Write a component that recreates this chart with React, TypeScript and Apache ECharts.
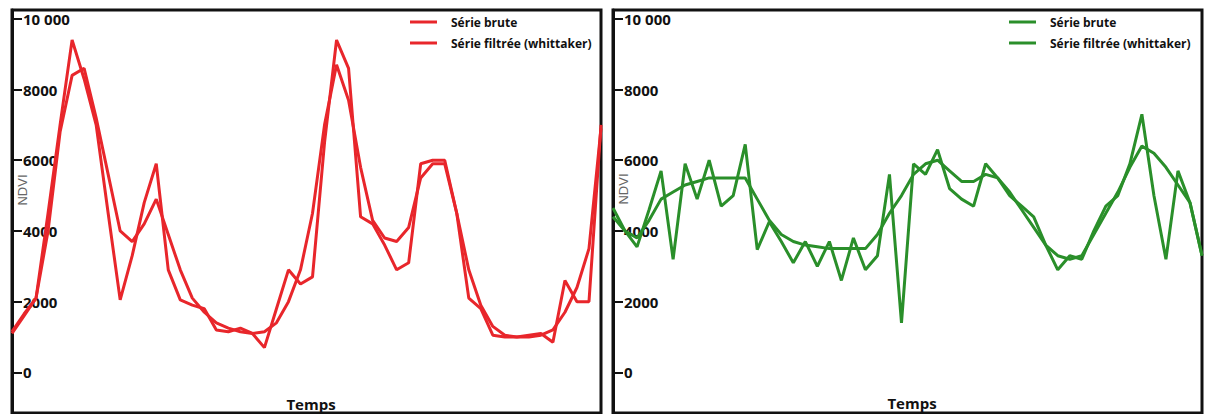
import React, { useEffect, useRef } from "react";
import * as echarts from "echarts";

const timeSteps: string[] = Array.from({ length: 50 }, (_, i) => String(i + 1));

const redRaw = [1150, 1650, 2100, 4500, 7000, 9400, 8300, 7000, 4500, 2050, 3300, 4800, 5900, 2900, 2050, 1900, 1800, 1200, 1150, 1250, 1100, 700, 1800, 2900, 2500, 2700, 6500, 9400, 8600, 4400, 4200, 3600, 2900, 3100, 5900, 6000, 6000, 4500, 2100, 1800, 1050, 1000, 1000, 1050, 1100, 850, 2600, 2000, 2000, 7000];
const redSmooth = [1100, 1600, 2100, 4000, 6800, 8400, 8600, 7200, 5600, 4000, 3700, 4200, 4900, 3900, 2900, 2100, 1700, 1400, 1250, 1150, 1100, 1150, 1400, 2000, 2900, 4500, 7000, 8700, 7700, 5800, 4300, 3800, 3700, 4100, 5500, 5900, 5900, 4500, 2900, 1900, 1300, 1050, 1000, 1000, 1050, 1200, 1700, 2400, 3500, 6900];

const greenRaw = [4650, 4000, 3550, 4600, 5700, 3200, 5900, 4900, 6000, 4700, 5000, 6450, 3470, 4260, 3700, 3100, 3700, 3000, 3700, 2600, 3800, 2900, 3300, 5600, 1400, 5900, 5600, 6300, 5200, 4900, 4700, 5900, 5500, 5000, 4700, 4400, 3600, 2900, 3300, 3200, 4000, 4700, 5000, 5900, 7300, 5000, 3200, 5700, 4800, 3300];
const greenSmooth = [4400, 4000, 3800, 4300, 4900, 5100, 5300, 5400, 5500, 5500, 5500, 5500, 4900, 4300, 3900, 3700, 3600, 3550, 3500, 3500, 3500, 3500, 3900, 4500, 5000, 5600, 5900, 6000, 5700, 5400, 5400, 5600, 5500, 5100, 4600, 4100, 3600, 3300, 3200, 3300, 3900, 4500, 5100, 5800, 6400, 6200, 5800, 5300, 4800, 3300];

const yTicks = [0, 2000, 4000, 6000, 8000, 10000];
const seriesNames = ["Série brute", "Série filtrée (whittaker)"];
const yName = "NDVI";
const xName = "Temps";

const RED = "#e8262b";
const GREEN = "#2a8f2a";
const FONT = "'Open Sans', 'Liberation Sans', sans-serif";

export default function App() {
  const ref = useRef<HTMLDivElement>(null);
  useEffect(() => {
    if (!ref.current) return;
    const chart = echarts.init(ref.current, null, { renderer: "svg" });
    const grids = [
      { left: 12, top: 10, width: 589, height: 403 },
      { left: 613, top: 10, width: 589, height: 403 },
    ];
    const mkY = (gi: number) => ({
      type: "value",
      gridIndex: gi,
      min: -1150,
      max: 10250,
      splitLine: { show: false },
      axisLine: { show: true, lineStyle: { color: "#111", width: 3 } },
      axisTick: {
        show: true,
        inside: true,
        length: 10,
        customValues: yTicks,
        lineStyle: { color: "#111", width: 2 },
      },
      axisLabel: {
        show: true,
        inside: true,
        margin: 11,
        customValues: yTicks,
        color: "#111",
        fontFamily: FONT,
        fontWeight: "bold",
        fontSize: 15,
        formatter: (v: number) => (v === 10000 ? "10 000" : String(v)),
      },
    });
    const mkX = (gi: number) => ({
      type: "category",
      gridIndex: gi,
      data: timeSteps,
      boundaryGap: false,
      axisLine: { show: false },
      axisTick: { show: false },
      axisLabel: { show: false },
      splitLine: { show: false },
    });
    const mkSeries = (name: string, data: number[], idx: number, color: string) => ({
      type: "line",
      name,
      xAxisIndex: idx,
      yAxisIndex: idx,
      data,
      symbol: "none",
      legendIcon: "rect",
      lineStyle: { color, width: 3 },
      itemStyle: { color },
    });
    const legendText = {
      color: "#111",
      fontFamily: FONT,
      fontWeight: "bold",
      fontSize: 12,
      padding: [0, 0, 0, 9],
    };
    const mkLegend = (left: number, color: string) => ({
      left,
      top: 11,
      orient: "vertical",
      itemGap: 9,
      itemWidth: 27,
      itemHeight: 3,
      icon: "rect",
      textStyle: legendText,
      data: seriesNames.map((n) => ({
        name: n,
        icon: "rect",
        itemStyle: { color, borderWidth: 0 },
        lineStyle: { width: 0 },
      })),
    });
    chart.setOption({
      animation: false,
      backgroundColor: "#ffffff",
      grid: grids.map((g) => ({ ...g, show: true, borderColor: "#111", borderWidth: 3, backgroundColor: "#ffffff" })),
      xAxis: [mkX(0), mkX(1)],
      yAxis: [mkY(0), mkY(1)],
      legend: [mkLegend(405, RED), mkLegend(1004, GREEN)],
      series: [
        mkSeries(seriesNames[0], redRaw, 0, RED),
        mkSeries(seriesNames[1], redSmooth, 0, RED),
        mkSeries(seriesNames[0], greenRaw, 1, GREEN),
        mkSeries(seriesNames[1], greenSmooth, 1, GREEN),
      ],
      graphic: [
        {
          type: "text",
          x: 22,
          y: 190,
          rotation: Math.PI / 2,
          style: { text: yName, fill: "#666", font: "13px 'Liberation Sans'", align: "center", verticalAlign: "middle" },
        },
        {
          type: "text",
          x: 623,
          y: 189,
          rotation: Math.PI / 2,
          style: { text: yName, fill: "#666", font: "13px 'Liberation Sans'", align: "center", verticalAlign: "middle" },
        },
        {
          type: "text",
          x: 311,
          y: 404,
          style: { text: xName, fill: "#111", font: "bold 15px 'Open Sans'", align: "center", verticalAlign: "middle" },
        },
        {
          type: "text",
          x: 912,
          y: 403,
          style: { text: xName, fill: "#111", font: "bold 15px 'Open Sans'", align: "center", verticalAlign: "middle" },
        },
      ],
    });
    return () => chart.dispose();
  }, []);
  return (
    <div
      ref={ref}
      style={{ position: "fixed", left: 0, top: 0, width: 1210, height: 414, background: "#fff" }}
    />
  );
}
